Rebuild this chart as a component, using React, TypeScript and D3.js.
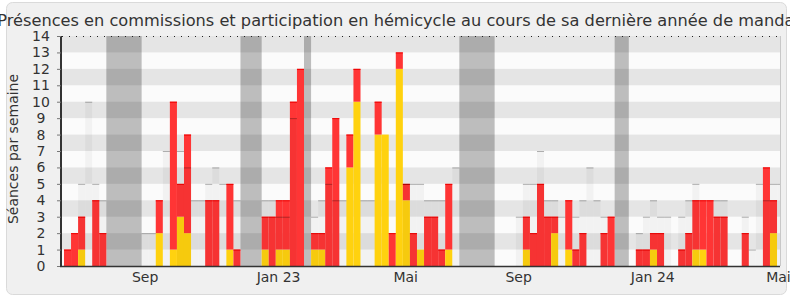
import React from "react";
import * as d3 from "d3";

// Weekly values (week index 0 .. 101)
const commission = [
  1, 2, 2, 0, 4, 2, 0, 0, 0, 0,
  0, 0, 0, 2, 0, 9, 2, 6, 0, 0,
  4, 4, 0, 4, 1, 0, 0, 0, 2, 3,
  3, 3, 10, 12, 0, 1, 1, 6, 9, 0,
  2, 2, 0, 0, 2, 0, 2, 1, 1, 2,
  0, 3, 3, 1, 4, 0, 0, 0, 0, 0,
  0, 0, 0, 0, 0, 2, 2, 5, 3, 1,
  0, 3, 1, 2, 0, 0, 2, 3, 0, 0,
  0, 1, 1, 1, 2, 0, 0, 1, 2, 3,
  3, 4, 3, 3, 0, 0, 2, 0, 0, 6,
  2, 0,
];
const hemicycle = [
  0, 0, 1, 0, 0, 0, 0, 0, 0, 0,
  0, 0, 0, 2, 0, 1, 3, 2, 0, 0,
  0, 0, 0, 1, 0, 0, 0, 0, 1, 0,
  1, 1, 0, 0, 0, 1, 1, 0, 0, 0,
  6, 10, 0, 0, 8, 8, 0, 12, 4, 0,
  1, 0, 0, 0, 1, 0, 0, 0, 0, 0,
  0, 0, 0, 0, 0, 1, 0, 0, 0, 2,
  0, 1, 0, 0, 0, 0, 0, 0, 0, 0,
  0, 0, 0, 1, 0, 0, 0, 0, 0, 1,
  1, 0, 0, 0, 0, 0, 0, 0, 0, 0,
  2, 0,
];
const mediane = [
  0, 0, 5, 10, 5, 4, 0, 0, 0, 0,
  0, 2, 2, 0, 7, 0, 7, 6, 4, 4,
  5, 6, 5, 0, 4, 0, 0, 0, 4, 4,
  3, 3, 9, 0, 0, 3, 4, 5, 4, 4,
  0, 0, 4, 4, 0, 0, 0, 0, 5, 5,
  5, 4, 4, 4, 0, 6, 0, 0, 0, 0,
  0, 0, 0, 0, 3, 5, 5, 7, 4, 4,
  3, 0, 3, 4, 6, 4, 3, 0, 0, 0,
  0, 2, 3, 4, 3, 3, 0, 3, 4, 5,
  0, 0, 4, 4, 0, 0, 3, 1, 5, 4,
  5, 5,
];
// vacation periods as [startWeek, endWeek)
const vacances: [number, number][] = [
  [6, 11],
  [25, 28],
  [34, 35],
  [56, 61],
  [78, 80],
];
const xTickLabels = ["Sep", "Jan 23", "Mai", "Sep", "Jan 24", "Mai"];
const xTickWeeks = [11.5, 30.4, 48.4, 64.4, 83.4, 101.2];
const yTicks = d3.range(0, 15);
const title =
  "Présences en commissions et participation en hémicycle au cours de sa dernière année de mandat";
const yTitle = "Séances par semaine";

export default function App() {
  const W = 790;
  const H = 300;
  const L = 62,
    R = 780,
    T = 36,
    B = 266;
  const font = "'DejaVu Sans', Verdana, sans-serif";
  const x = d3.scaleLinear().domain([-0.28, 101.42]).range([L, R]);
  const y = d3.scaleLinear().domain([0, 14]).range([B, T]);
  const weeks = d3.range(commission.length);
  const stripes = d3.range(1, 14, 2);

  return (
    <svg
      width={W}
      height={H}
      style={{ position: "absolute", left: 0, top: 0, background: "#fff" }}
      fontFamily={font}
    >
      <defs>
        <clipPath id="plot">
          <rect x={L} y={T} width={R - L} height={B - T} />
        </clipPath>
      </defs>
      <rect x={6.5} y={2.5} width={780} height={292} rx={6} fill="#f0f0f0" stroke="#dadada" />
      <text x={399} y={26} textAnchor="middle" fontSize={16.2} fill="#333">
        {title}
      </text>
      <text
        transform={`translate(18.3,149) rotate(-90)`}
        textAnchor="middle"
        fontSize={14}
        fill="#333"
      >
        {yTitle}
      </text>

      <g clipPath="url(#plot)">
        <rect x={L} y={T} width={R - L} height={B - T} fill="#fbfbfb" />
        {vacances.map(([a, b], i) => (
          <rect key={"v" + i} x={x(a)} y={T} width={x(b) - x(a)} height={B - T} fill="#bdbdbd" />
        ))}
        {stripes.map((k) => (
          <rect
            key={"s" + k}
            x={L}
            y={y(k + 1)}
            width={R - L}
            height={y(k) - y(k + 1)}
            fill="rgba(0,0,0,0.085)"
          />
        ))}
        {weeks.map((i) => {
          const hv = hemicycle[i];
          const cv = commission[i];
          const x0 = x(i);
          const w = x(i + 1) - x(i);
          return (
            <g key={"b" + i}>
              {hv > 0 && (
                <rect x={x0} y={y(hv)} width={w} height={y(0) - y(hv)} fill="#ffd20f" />
              )}
              {cv > 0 && (
                <>
                  <rect
                    x={x0}
                    y={y(hv + cv)}
                    width={w}
                    height={y(hv) - y(hv + cv)}
                    fill="#ff3535"
                  />
                  <rect x={x0} y={y(hv + cv)} width={w} height={1} fill="#ee0000" />
                </>
              )}
            </g>
          );
        })}
        {weeks.map((i) => {
          const mv = mediane[i];
          if (!mv) return null;
          const x0 = x(i);
          const w = x(i + 1) - x(i);
          return (
            <g key={"m" + i}>
              <rect x={x0} y={y(mv)} width={w} height={y(0) - y(mv)} fill="rgba(0,0,0,0.035)" />
              <rect x={x0} y={y(mv)} width={w} height={1} fill="rgba(0,0,0,0.28)" />
            </g>
          );
        })}
      </g>

      {/* top dotted line */}
      <line x1={L} x2={R} y1={T + 0.5} y2={T + 0.5} stroke="#222" strokeDasharray="1,6" />
      {/* right border */}
      <line x1={R + 0.5} x2={R + 0.5} y1={T} y2={B} stroke="#c8c8c8" />
      {/* y axis */}
      <line x1={61} x2={61} y1={T} y2={B + 1} stroke="#333" strokeWidth={2} />
      {yTicks.map((t) => (
        <g key={"yt" + t}>
          <line x1={57} x2={61} y1={y(t) + 0.5} y2={y(t) + 0.5} stroke="#777" />
          <text x={41} y={y(t)} dy="0.36em" textAnchor="middle" fontSize={14} fill="#333">
            {t}
          </text>
        </g>
      ))}
      {/* x axis */}
      <line x1={60} x2={R} y1={B + 0.5} y2={B + 0.5} stroke="#333" strokeWidth={1.5} />
      {xTickLabels.map((lab, i) => (
        <text
          key={"xt" + i}
          x={x(xTickWeeks[i])}
          y={282}
          textAnchor="middle"
          fontSize={14}
          fill="#333"
        >
          {lab}
        </text>
      ))}
    </svg>
  );
}
